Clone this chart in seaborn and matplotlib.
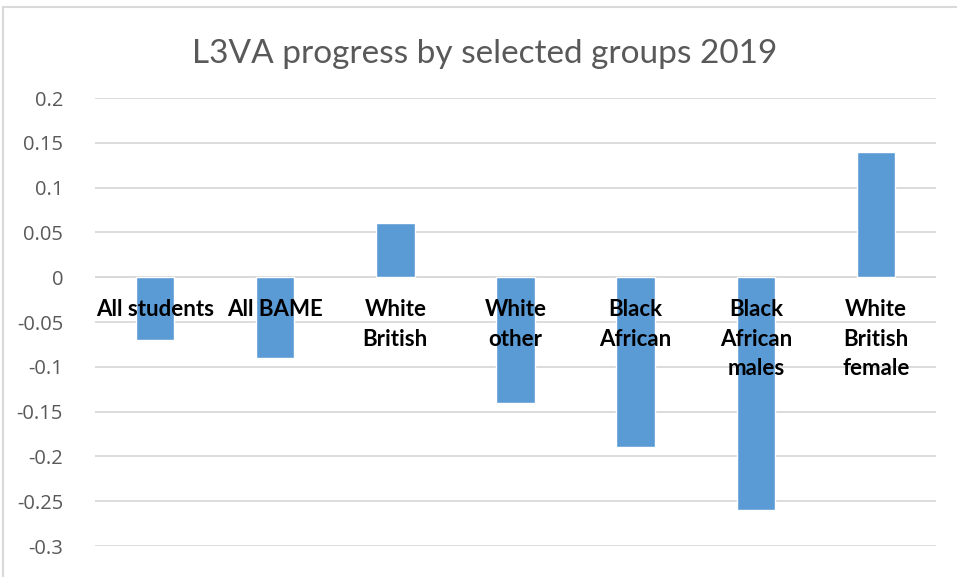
import matplotlib
matplotlib.use("Agg")
import matplotlib.pyplot as plt
from matplotlib.patches import Rectangle
import seaborn as sns
import pandas as pd

groups = ["All students", "All BAME", "White\nBritish", "White\nother",
          "Black\nAfrican", "Black\nAfrican\nmales", "White\nBritish\nfemale"]
progress = [-0.07, -0.09, 0.06, -0.14, -0.19, -0.26, 0.14]
y_ticks = [0.2, 0.15, 0.1, 0.05, 0, -0.05, -0.1, -0.15, -0.2, -0.25, -0.3]
y_tick_labels = ["0.2", "0.15", "0.1", "0.05", "0", "-0.05", "-0.1", "-0.15", "-0.2", "-0.25", "-0.3"]
title = "L3VA progress by selected groups 2019"

sns.set_theme(style="white")
plt.rcParams["font.family"] = ["Lato", "DejaVu Sans"]

W, H = 957, 577
fig = plt.figure(figsize=(W / 100, H / 100), dpi=100)
fig.patch.set_facecolor("white")

# chart frame (left and top edges visible)
fig.patches.append(Rectangle((3 / W, -0.05), 1.2, (H - 7) / H + 0.05,
                             transform=fig.transFigure, fill=False,
                             edgecolor="#d9d9d9", linewidth=1.5))

ax = fig.add_axes([95 / W, 1 - 546 / H, (936 - 95) / W, (546 - 98) / H])
df = pd.DataFrame({"group": groups, "progress": progress})
sns.barplot(data=df, x="group", y="progress", color="#5b9bd5", saturation=1,
            width=0.32, ax=ax, zorder=3)

ax.set_ylim(-0.3, 0.2)
ax.set_xlim(-0.5, len(groups) - 0.5)
ax.set_yticks(y_ticks)
ax.set_yticklabels(y_tick_labels, color="#595959", fontsize=14.5,
                   family=["Open Sans", "DejaVu Sans"])
ax.tick_params(axis="y", length=0, pad=23)
ax.set_xticks([])
ax.set_xlabel("")
ax.set_ylabel("")
for s in ax.spines.values():
    s.set_visible(False)
ax.grid(axis="y", color="#d9d9d9", linewidth=1.3, zorder=0)
ax.set_axisbelow(True)
ax.axhline(0, color="#d9d9d9", linewidth=1.3, zorder=2)

# category labels sit just below the zero line, over the bars
for i, g in enumerate(groups):
    ax.annotate(g, xy=(i, 0), xytext=(0, -16), textcoords="offset points",
                ha="center", va="top", fontsize=16, fontweight="bold",
                color="black", linespacing=1.5, zorder=5)

fig.text(485 / W, 1 - 54 / H, title, ha="center", va="center",
         fontsize=24, fontweight="normal", color="#595959")

fig.savefig("out.png", dpi=100, facecolor="white")
